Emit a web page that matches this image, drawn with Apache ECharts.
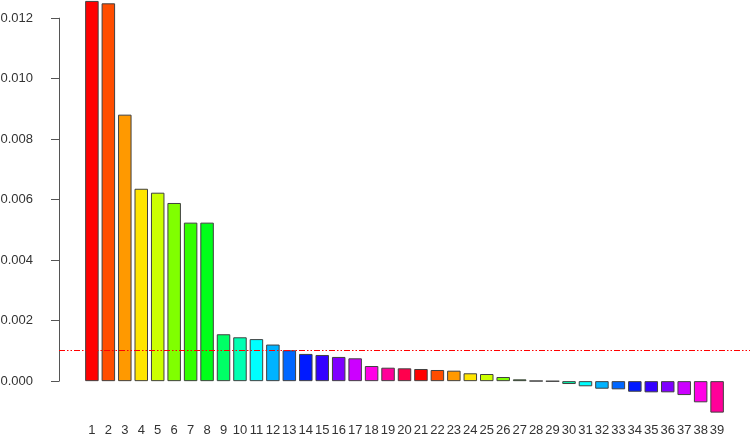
<!DOCTYPE html>
<html>
<head>
<meta charset="utf-8">
<script src="https://cdn.jsdelivr.net/npm/echarts@6/dist/echarts.min.js"></script>
<style>
html,body{margin:0;padding:0;background:#fff;}
#chart{width:750px;height:437px;}
</style>
</head>
<body>
<div id="chart"></div>
<script>
// Data
var categories = ['1','2','3','4','5','6','7','8','9','10','11','12','13','14','15','16','17','18','19','20',
  '21','22','23','24','25','26','27','28','29','30','31','32','33','34','35','36','37','38','39'];
var values = [0.01257, 0.01249, 0.00881, 0.00636, 0.00623, 0.00589, 0.00524, 0.00524, 0.00155, 0.00145,
  0.00139, 0.00121, 0.00102, 0.00090, 0.000865, 0.00080, 0.000755, 0.00050, 0.000445, 0.000424,
  0.000402, 0.000369, 0.000346, 0.00026, 0.000236, 0.000137, 0.00006, 0.000008, -0.000005, -0.000095,
  -0.00017, -0.00025, -0.00027, -0.00035, -0.00037, -0.00037, -0.00046, -0.00070, -0.00104];
var refLine = 0.00103;
var yTicks = ['0.000','0.002','0.004','0.006','0.008','0.010','0.012'];

// Styles
var palette = ['#FF0000','#FF4D00','#FF9900','#FFE500','#CCFF00','#80FF00','#33FF00','#00FF19','#00FF66','#00FFB2',
  '#00FFFF','#00B3FF','#0066FF','#001AFF','#3300FF','#7F00FF','#CC00FF','#FF00E6','#FF0099','#FF004D'];

var barData = values.map(function (v, i) {
  return { value: [i + 1, v], itemStyle: { color: palette[i % palette.length] } };
});

var chart = echarts.init(document.getElementById('chart'), null, { renderer: 'canvas' });
chart.setOption({
  animation: false,
  backgroundColor: '#ffffff',
  grid: [
    { left: 59, right: 0, top: 18.15, bottom: 55.85, containLabel: false, outerBoundsMode: 'none' },
    { left: 59, right: 0, top: 0, bottom: 19.55, containLabel: false, outerBoundsMode: 'none' }
  ],
  xAxis: [
    { gridIndex: 0, type: 'value', min: -1, max: 41, show: false },
    {
      gridIndex: 1, type: 'value', min: -1, max: 41, interval: 1,
      axisLine: { show: false, onZero: false }, axisTick: { show: false }, splitLine: { show: false },
      axisLabel: {
        margin: 6, fontFamily: 'Liberation Sans', fontSize: 13, color: '#333',
        showMinLabel: true, showMaxLabel: true,
        formatter: function (v) {
          var k = Math.round(v);
          return (k >= 1 && k <= categories.length) ? categories[k - 1] : '';
        }
      }
    }
  ],
  yAxis: [
    {
      gridIndex: 0, type: 'value', min: 0, max: 0.012, interval: 0.002,
      axisLine: { show: true, onZero: false, lineStyle: { color: '#555', width: 1 } },
      axisTick: { show: true, length: 8, lineStyle: { color: '#555', width: 1 } },
      splitLine: { show: false },
      axisLabel: {
        margin: 26, fontFamily: 'Liberation Sans', fontSize: 13, color: '#333',
        padding: [4, 0, 0, 0],
        formatter: function (v) { return yTicks[Math.round(v / 0.002)]; }
      }
    },
    {
      gridIndex: 1, type: 'value', min: -0.0012, max: 0.0126, show: false, splitLine: { show: false },
      axisLine: { onZero: false }
    }
  ],
  series: [
    {
      type: 'bar',
      xAxisIndex: 1, yAxisIndex: 1,
      barWidth: 13.5,
      clip: false,
      itemStyle: { borderColor: '#404040', borderWidth: 1 },
      data: barData,
      markLine: {
        silent: true,
        symbol: ['none', 'none'],
        label: { show: false },
        lineStyle: { color: '#FF0000', width: 1.2, type: [6, 2, 1.5, 2, 1.5, 2], opacity: 1 },
        data: [[{ coord: [-1, refLine] }, { coord: [41, refLine] }]]
      }
    }
  ]
});
</script>
</body>
</html>
